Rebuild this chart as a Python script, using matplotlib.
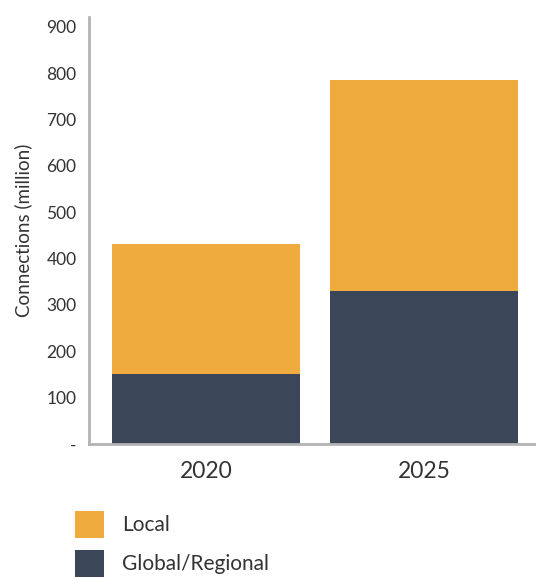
import matplotlib.pyplot as plt
from matplotlib.ticker import FixedLocator, FixedFormatter

plt.rcParams['font.family'] = ['Lato', 'DejaVu Sans']

years = ["2020", "2025"]
global_regional = [150, 330]
local = [282, 455]
y_ticks = [0, 100, 200, 300, 400, 500, 600, 700, 800, 900]
y_tick_labels = ["-", "100", "200", "300", "400", "500", "600", "700", "800", "900"]

orange = "#EFAB3E"
navy = "#3B4658"
text_color = "#333333"

fig = plt.figure(figsize=(5.36, 5.79), dpi=100)
ax = fig.add_axes([89 / 536, 1 - 444 / 579, 1 - 89 / 536, (444 - 17) / 579])

x = list(range(len(years)))
b_global = ax.bar(x, global_regional, width=0.862, color=navy, label="Global/Regional")
b_local = ax.bar(x, local, width=0.862, bottom=global_regional, color=orange, label="Local")

ax.set_xlim(-0.537, 1.514)
ax.set_ylim(0, 921)
ax.yaxis.set_major_locator(FixedLocator(y_ticks))
ax.yaxis.set_major_formatter(FixedFormatter(y_tick_labels))
ax.set_xticks(x)
ax.set_xticklabels(years)
ax.tick_params(axis='y', length=0, pad=9, labelsize=12.5, labelcolor=text_color)
ax.tick_params(axis='x', length=0, pad=12, labelsize=16.5, labelcolor=text_color)
ax.set_ylabel("Connections (million)", fontsize=13.5, color=text_color, labelpad=10)

for side in ["top", "right"]:
    ax.spines[side].set_visible(False)
for side in ["left", "bottom"]:
    ax.spines[side].set_color("#B3B3B3")
    ax.spines[side].set_linewidth(2)

fig.legend(handles=[b_local, b_global], loc='upper left',
           bbox_to_anchor=(75 / 536, 1 - 511 / 579), frameon=False,
           fontsize=15, handlelength=1.39, handleheight=1.6,
           labelspacing=0.6, handletextpad=0.87, borderpad=0, borderaxespad=0,
           labelcolor=text_color)

fig.savefig("out.png", dpi=100)
